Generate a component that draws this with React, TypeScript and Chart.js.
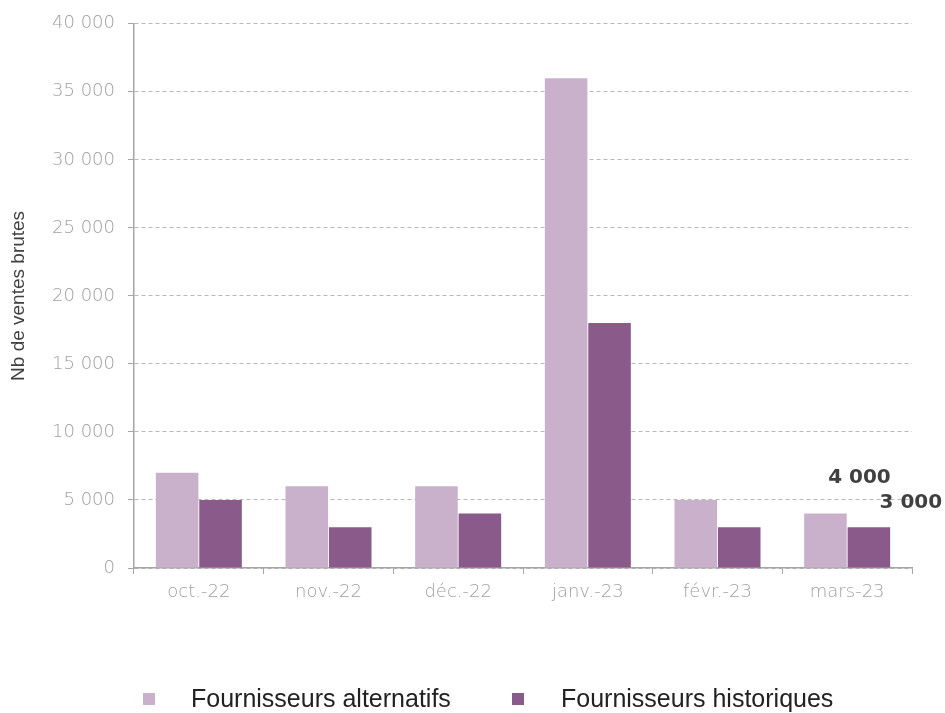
import React, { useEffect, useRef } from "react";
import { Chart, registerables } from "chart.js";

Chart.register(...registerables);

const categories = ["oct.-22", "nov.-22", "déc.-22", "janv.-23", "févr.-23", "mars-23"];
const alternatifs = [7000, 6000, 6000, 36000, 5000, 4000];
const historiques = [5000, 3000, 4000, 18000, 3000, 3000];
const seriesNames = ["Fournisseurs alternatifs", "Fournisseurs historiques"];
const seriesColors = ["#C9B1CB", "#8A5A8B"];
const yTitle = "Nb de ventes brutes";

const fmt = (v: number) => {
  const s = Math.round(v).toString();
  return s.replace(/\B(?=(\d{3})+(?!\d))/g, " ");
};

const lastLabelsPlugin = {
  id: "lastLabels",
  afterDatasetsDraw(chart: any) {
    const ctx = chart.ctx;
    const offsets = [
      { dx: 34, dy: -36 },
      { dx: 42, dy: -24 },
    ];
    ctx.save();
    ctx.font = "bold 20px 'DejaVu Sans', sans-serif";
    ctx.fillStyle = "#404040";
    ctx.textAlign = "center";
    ctx.textBaseline = "middle";
    chart.data.datasets.forEach((ds: any, i: number) => {
      const meta = chart.getDatasetMeta(i);
      const idx = ds.data.length - 1;
      const el = meta.data[idx];
      if (!el) return;
      ctx.fillText(fmt(ds.data[idx]), el.x + offsets[i].dx, el.y + offsets[i].dy);
    });
    ctx.restore();
  },
};

export default function App() {
  const ref = useRef<HTMLCanvasElement>(null);

  useEffect(() => {
    if (!ref.current) return;
    const tickFont = { family: "'DejaVu Sans', sans-serif", size: 18, weight: 200 as any };
    const chart = new Chart(ref.current, {
      type: "bar",
      data: {
        labels: categories,
        datasets: [
          {
            label: seriesNames[0],
            data: alternatifs,
            backgroundColor: seriesColors[0],
            categoryPercentage: 0.67,
            barPercentage: 0.98,
          },
          {
            label: seriesNames[1],
            data: historiques,
            backgroundColor: seriesColors[1],
            categoryPercentage: 0.67,
            barPercentage: 0.98,
          },
        ],
      },
      options: {
        responsive: false,
        animation: false,
        layout: { padding: { left: 0, right: 33, top: 21, bottom: 100 } },
        plugins: {
          legend: { display: false },
          tooltip: { enabled: false },
        },
        scales: {
          x: {
            afterFit: (s: any) => {
              s.height = 45;
            },
            grid: {
              display: true,
              drawOnChartArea: false,
              drawTicks: true,
              tickLength: 6,
              color: "#a6a6a6",
              offset: true,
            },
            border: { display: true, color: "#a6a6a6", width: 1.5 },
            ticks: {
              color: "#a0a0a0",
              font: tickFont,
              padding: 8,
              maxRotation: 0,
            },
          },
          y: {
            min: 0,
            max: 40000,
            afterFit: (s: any) => {
              s.width = 134;
            },
            grid: {
              color: "#b8b8b8",
              tickLength: 6,
              tickColor: "#a6a6a6",
              tickBorderDash: [],
            },
            border: { display: true, color: "#a6a6a6", width: 1.5, dash: [4, 3] },
            ticks: {
              stepSize: 5000,
              color: "#a0a0a0",
              font: tickFont,
              padding: 13,
              callback: (v: any) => fmt(Number(v)),
            },
            title: {
              display: true,
              text: yTitle,
              color: "#404040",
              font: { family: "'Liberation Sans', Arial, sans-serif", size: 19 },
              padding: { top: 7, bottom: 4 },
            },
          },
        },
      },
      plugins: [lastLabelsPlugin],
    });
    return () => chart.destroy();
  }, []);

  const legendItems = [
    { box: 143, text: 191 },
    { box: 512, text: 561 },
  ];

  return (
    <div style={{ position: "absolute", left: 0, top: 0, width: 945, height: 713, background: "#fff" }}>
      <canvas ref={ref} width={945} height={713} style={{ display: "block" }} />
      {legendItems.map((li, i) => (
        <React.Fragment key={i}>
          <div
            style={{
              position: "absolute",
              left: li.box,
              top: 693,
              width: 12,
              height: 12,
              background: seriesColors[i],
            }}
          />
          <div
            style={{
              position: "absolute",
              left: li.text,
              top: 683,
              height: 30,
              lineHeight: "30px",
              fontFamily: "'Liberation Sans', Arial, sans-serif",
              fontSize: 25,
              color: "#222",
              whiteSpace: "nowrap",
            }}
          >
            {seriesNames[i]}
          </div>
        </React.Fragment>
      ))}
    </div>
  );
}
